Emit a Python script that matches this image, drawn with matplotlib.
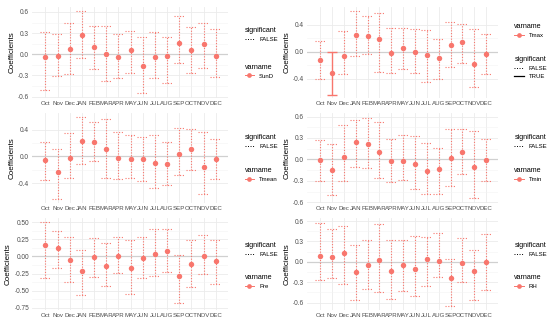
import matplotlib
matplotlib.use("Agg")
import matplotlib.pyplot as plt
from matplotlib.lines import Line2D
import numpy as np

plt.rcParams['font.family'] = ['Liberation Sans', 'DejaVu Sans']

months = ["Oct", "Nov", "Dec", "JAN", "FEB", "MAR", "APR", "MAY",
          "JUN", "JUL", "AUG", "SEP", "OCT", "NOV", "DEC"]

# coefficient estimates and confidence bounds
sund_est = [-0.04, -0.02, 0.075, 0.27, 0.11, 0.005, -0.04, 0.06, -0.17, -0.04, -0.02, 0.165, 0.065, 0.15, -0.03]
sund_lo = [-0.50, -0.31, -0.28, -0.05, -0.21, -0.38, -0.33, -0.27, -0.55, -0.33, -0.41, -0.13, -0.27, -0.19, -0.32]
sund_hi = [0.31, 0.29, 0.445, 0.61, 0.40, 0.40, 0.29, 0.33, 0.25, 0.32, 0.25, 0.54, 0.39, 0.45, 0.365]
sund_sig = [False] * 15

tmax_est = [-0.125, -0.32, -0.065, 0.255, 0.23, 0.185, -0.02, 0.055, -0.01, -0.045, -0.095, 0.10, 0.14, -0.175, -0.025]
tmax_lo = [-0.41, -0.635, -0.335, -0.06, -0.035, -0.295, -0.315, -0.26, -0.315, -0.445, -0.40, -0.22, -0.17, -0.525, -0.335]
tmax_hi = [0.165, -0.003, 0.315, 0.605, 0.525, 0.58, 0.355, 0.355, 0.335, 0.32, 0.195, 0.445, 0.42, 0.335, 0.265]
tmax_sig = [False, True] + [False] * 13

tmean_est = [-0.06, -0.235, -0.025, 0.225, 0.21, 0.105, -0.02, -0.035, -0.045, -0.10, -0.11, 0.03, 0.11, -0.165, -0.04]
tmean_lo = [-0.36, -0.635, -0.33, -0.115, -0.07, -0.33, -0.34, -0.33, -0.37, -0.475, -0.425, -0.28, -0.20, -0.565, -0.335]
tmean_hi = [0.22, 0.105, 0.355, 0.59, 0.51, 0.56, 0.36, 0.325, 0.285, 0.315, 0.22, 0.43, 0.415, 0.365, 0.265]
tmean_sig = [False] * 15

tmin_est = [-0.01, -0.15, 0.04, 0.24, 0.21, 0.11, -0.02, -0.015, -0.07, -0.165, -0.135, 0.015, 0.105, -0.10, -0.01]
tmin_lo = [-0.305, -0.495, -0.30, -0.105, -0.115, -0.265, -0.315, -0.29, -0.42, -0.485, -0.48, -0.365, -0.21, -0.535, -0.305]
tmin_hi = [0.27, 0.21, 0.48, 0.555, 0.58, 0.525, 0.29, 0.34, 0.33, 0.225, 0.16, 0.42, 0.42, 0.405, 0.29]
tmin_sig = [False] * 15

pre_est = [0.165, 0.13, -0.045, -0.215, -0.015, -0.14, 0.01, -0.17, -0.025, 0.03, 0.085, -0.29, -0.115, 0.005, -0.06]
pre_lo = [-0.32, -0.165, -0.37, -0.56, -0.295, -0.435, -0.24, -0.545, -0.32, -0.29, -0.23, -0.68, -0.445, -0.26, -0.40]
pre_hi = [0.50, 0.37, 0.29, 0.09, 0.265, 0.19, 0.29, 0.24, 0.28, 0.405, 0.395, 0.015, 0.245, 0.315, 0.235]
pre_sig = [False] * 15

rh_est = [0.085, 0.07, 0.13, -0.15, -0.04, 0.03, -0.14, -0.04, -0.105, 0.04, 0.01, -0.24, -0.025, -0.13, 0.0]
rh_lo = [-0.265, -0.235, -0.33, -0.565, -0.40, -0.44, -0.555, -0.43, -0.50, -0.355, -0.22, -0.645, -0.30, -0.565, -0.415]
rh_hi = [0.575, 0.48, 0.525, 0.24, 0.315, 0.555, 0.315, 0.32, 0.375, 0.36, 0.425, 0.035, 0.345, 0.18, 0.41]
rh_sig = [False] * 15

RED = "#F8766D"
GRID = "#EBEBEB"
TXT = "#4D4D4D"

# name, values, y ticks, tick format, y limits, legend order, legend y anchors
panels = [
    ("SunD", sund_est, sund_lo, sund_hi, sund_sig, [-0.6, -0.3, 0.0, 0.3, 0.6], "{:.1f}", (-0.62, 0.67), "sig_first", (0.81, 0.41)),
    ("Tmax", tmax_est, tmax_lo, tmax_hi, tmax_sig, [-0.4, 0.0, 0.4], "{:.1f}", (-0.685, 0.665), "var_first", (0.86, 0.49)),
    ("Tmean", tmean_est, tmean_lo, tmean_hi, tmean_sig, [-0.4, 0.0, 0.4], "{:.1f}", (-0.70, 0.65), "sig_first", (0.80, 0.43)),
    ("Tmin", tmin_est, tmin_lo, tmin_hi, tmin_sig, [-0.6, -0.3, 0.0, 0.3, 0.6], "{:.1f}", (-0.61, 0.65), "sig_first", (0.80, 0.43)),
    ("Pre", pre_est, pre_lo, pre_hi, pre_sig, [-0.75, -0.5, -0.25, 0.0, 0.25, 0.5], "{:.2f}", (-0.78, 0.56), "sig_first", (0.77, 0.42)),
    ("RH", rh_est, rh_lo, rh_hi, rh_sig, [-0.6, -0.3, 0.0, 0.3, 0.6], "{:.1f}", (-0.71, 0.645), "sig_first", (0.77, 0.42)),
]

# axes boxes in pixels (left, top, right, bottom) of a 550x325 canvas
W, H = 550, 325
boxes = [(32, 7, 228, 98), (307, 7, 498, 98),
         (32, 113, 228, 203), (307, 113, 498, 203),
         (32, 218, 228, 310), (307, 218, 498, 310)]

fig = plt.figure(figsize=(5.5, 3.25), dpi=100)

for (name, est, lo, hi, sig, yt, fmt, ylim, order, ly), (l, t, r, b) in zip(panels, boxes):
    ax = fig.add_axes([l / W, 1 - b / H, (r - l) / W, (b - t) / H])
    x = np.arange(1, len(months) + 1)
    est = np.array(est); lo = np.array(lo); hi = np.array(hi)

    ax.axhline(0, color="#D0D0D0", lw=0.9, zorder=1)
    for xi, e, a, c, s in zip(x, est, lo, hi, sig):
        ls = "-" if s else (0, (1, 1.5))
        lw = 1.0 if s else 0.8
        ax.vlines(xi, a, c, color=RED, ls=ls, lw=lw, zorder=2)
        ax.hlines([a, c], xi - 0.45, xi + 0.45, color=RED, ls=ls, lw=lw, zorder=2)
    ax.plot(x, est, "o", color=RED, ms=3.9, zorder=3, mec="none")

    ax.set_xlim(-0.1, 16.0)
    ax.set_ylim(*ylim)
    ax.set_xticks(x)
    ax.set_xticklabels(months)
    ax.set_yticks(yt)
    ax.set_yticklabels([fmt.format(v) for v in yt])
    mids = [(yt[i] + yt[i + 1]) / 2 for i in range(len(yt) - 1)]
    ax.set_yticks(mids, minor=True)
    ax.grid(True, which="major", color=GRID, lw=0.6)
    ax.grid(True, which="minor", axis="y", color="#F3F3F3", lw=0.4)
    ax.set_axisbelow(True)
    for sp in ax.spines.values():
        sp.set_visible(False)
    ax.tick_params(which="both", length=0, labelsize=4.4, labelcolor=TXT, pad=2)
    ax.tick_params(axis="y", labelsize=4.7)
    ax.set_ylabel("Coefficients", fontsize=5.8, labelpad=2)

    sig_handles = [Line2D([], [], color="black", ls=(0, (1, 1.6)), lw=0.7)]
    sig_labels = ["FALSE"]
    if any(sig):
        sig_handles.append(Line2D([], [], color="black", ls="-", lw=0.9))
        sig_labels.append("TRUE")
    var_handles = [Line2D([], [], color=RED, marker="o", ms=3.4, ls="-", lw=0.7, mec="none")]

    kw = dict(frameon=False, fontsize=4.3, title_fontsize=5.1, loc="upper left",
              handlelength=1.6, handletextpad=0.8, labelspacing=0.45, borderpad=0)
    bx = 1.07
    if order == "sig_first":
        first = ax.legend(sig_handles, sig_labels, title="significant",
                          bbox_to_anchor=(bx, ly[0]), **kw)
        second = ax.legend(var_handles, [name], title="varname",
                           bbox_to_anchor=(bx, ly[1]), **kw)
    else:
        first = ax.legend(var_handles, [name], title="varname",
                          bbox_to_anchor=(bx, ly[0]), **kw)
        second = ax.legend(sig_handles, sig_labels, title="significant",
                           bbox_to_anchor=(bx, ly[1]), **kw)
    first._legend_box.align = "left"
    second._legend_box.align = "left"
    ax.add_artist(first)

fig.savefig("out.png", dpi=100)
